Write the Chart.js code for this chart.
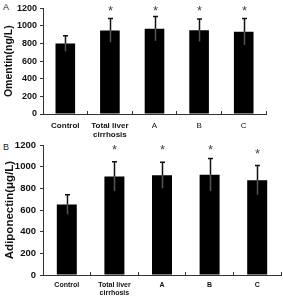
<!DOCTYPE html>
<html>
<head>
<meta charset="utf-8">
<script src="https://cdn.jsdelivr.net/npm/chart.js@4"></script>
<style>
  body { margin: 0; background: #fff; width: 283px; height: 297px; position: relative; overflow: hidden; font-family: "Liberation Sans", Arial, sans-serif; }
  canvas { position: absolute; left: 0; }
  #chartA { top: 0; }
  #chartB { top: 135px; }
  .panel { position: absolute; font-size: 9px; color: #222; }
</style>
</head>
<body>
<div class="panel" style="left:3px;top:2px">A</div>
<div class="panel" style="left:3px;top:142px">B</div>
<canvas id="chartA" width="283" height="143"></canvas>
<canvas id="chartB" width="283" height="162"></canvas>
<script>
const groups = ["Control", ["Total liver", "cirrhosis"], "A", "B", "C"];
const omentinMean = [800, 950, 970, 952, 935];
const omentinSd = [88, 135, 138, 128, 150];
const omentinStar = [null, 1215, 1215, 1215, 1215];
const adipoMean = [650, 910, 920, 925, 875];
const adipoSd = [90, 135, 120, 150, 135];
const adipoStar = [null, 1183, 1183, 1183, 1152];
const yMin = 0;
const yMax = 1200;
const yStep = 200;

const fontFamily = "'Liberation Sans', Arial, sans-serif";

// error bars + significance asterisks, placed through the chart's scales
const errorBars = {
  id: "errorBars",
  afterDatasetsDraw(chart, args, opts) {
    const ctx = chart.ctx;
    const xs = chart.scales.x;
    const ys = chart.scales.y;
    const means = chart.data.datasets[0].data;
    ctx.save();
    means.forEach((m, i) => {
      const cx = Math.round(xs.getPixelForValue(i)) + 0.5;
      const top = ys.getPixelForValue(m + opts.sd[i]);
      const mid = ys.getPixelForValue(m);
      const low = ys.getPixelForValue(m - opts.sd[i]);
      ctx.lineWidth = 1.5;
      ctx.strokeStyle = "#111";
      ctx.beginPath();
      ctx.moveTo(cx, mid);
      ctx.lineTo(cx, top);
      ctx.moveTo(cx - 2.5, top);
      ctx.lineTo(cx + 2.5, top);
      ctx.stroke();
      ctx.strokeStyle = "#555";
      ctx.beginPath();
      ctx.moveTo(cx, mid);
      ctx.lineTo(cx, low);
      ctx.stroke();
      if (opts.stars[i] != null) {
        const size = 13;
        ctx.font = size + "px " + fontFamily;
        ctx.fillStyle = "#444";
        ctx.textAlign = "center";
        ctx.textBaseline = "alphabetic";
        ctx.fillText("*", cx, ys.getPixelForValue(opts.stars[i]) + 0.575 * size);
      }
    });
    ctx.restore();
  },
};

const makeChart = (id, means, sd, stars, cfg) => {
  return new Chart(document.getElementById(id), {
    type: "bar",
    data: {
      labels: groups,
      datasets: [
        {
          data: means,
          backgroundColor: "#000",
          borderWidth: 0,
          barPercentage: cfg.barPct,
          categoryPercentage: 1,
        },
      ],
    },
    options: {
      responsive: false,
      animation: false,
      devicePixelRatio: 1,
      layout: { padding: { left: 0, top: cfg.top, right: cfg.right, bottom: 0 } },
      plugins: {
        legend: { display: false },
        tooltip: { enabled: false },
        errorBars: { sd: sd, stars: stars },
      },
      scales: {
        x: {
          afterFit: (scale) => {
            scale.height = cfg.xHeight;
          },
          border: { display: true, color: "#333", width: 1 },
          grid: { drawOnChartArea: false, drawTicks: true, tickLength: -3, color: "#333" },
          ticks: {
            color: "#111",
            padding: cfg.xPad,
            maxRotation: 0,
            autoSkip: false,
            font: (c) => ({
              family: fontFamily,
              size: cfg.xFont,
              weight: cfg.abcBold || c.index < 2 ? "bold" : "normal",
              lineHeight: 1.15,
            }),
          },
        },
        y: {
          min: yMin,
          max: yMax,
          afterFit: (scale) => {
            scale.width = 43;
          },
          border: { display: true, color: "#333", width: 1 },
          grid: { drawOnChartArea: false, drawTicks: true, tickLength: 3, color: "#333" },
          ticks: {
            stepSize: yStep,
            color: "#111",
            padding: cfg.yPad,
            callback: (v) => String(v),
            font: { family: fontFamily, size: cfg.yFont, weight: "bold" },
          },
          title: {
            display: true,
            text: cfg.title,
            color: "#111",
            font: { family: fontFamily, size: cfg.titleFont, weight: "bold" },
            padding: { top: cfg.titlePad, bottom: 0 },
          },
        },
      },
    },
    plugins: [errorBars],
  });
};

makeChart("chartA", omentinMean, omentinSd, omentinStar, {
  barPct: 0.44,
  top: 7,
  right: 17,
  xHeight: 29,
  xPad: 10,
  xFont: 8,
  abcBold: false,
  yFont: 9,
  yPad: 3,
  title: "Omentin(ng/L)",
  titleFont: 10.5,
  titlePad: 3,
});

makeChart("chartB", adipoMean, adipoSd, adipoStar, {
  barPct: 0.42,
  top: 10,
  right: 2,
  xHeight: 22,
  xPad: 9,
  xFont: 7,
  abcBold: true,
  yFont: 9.5,
  yPad: 4,
  title: "Adiponectin(μg/L)",
  titleFont: 11.5,
  titlePad: 3,
});
</script>
</body>
</html>
